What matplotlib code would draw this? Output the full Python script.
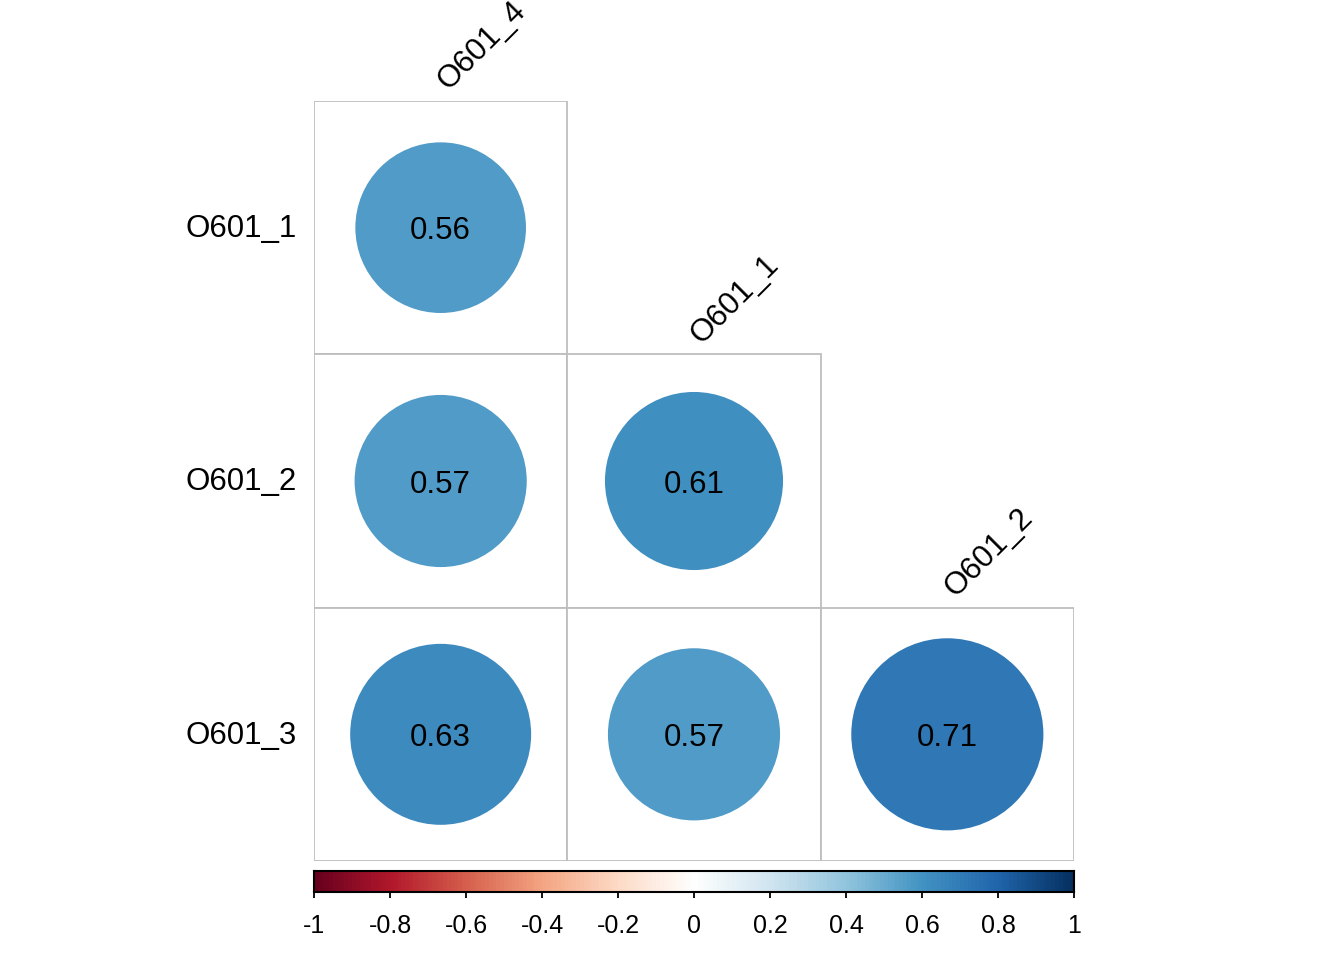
import numpy as np
import matplotlib
matplotlib.use("Agg")
import matplotlib.pyplot as plt
from matplotlib.colors import LinearSegmentedColormap
from matplotlib.patches import Circle, Rectangle

plt.rcParams['font.family'] = ['Liberation Sans', 'DejaVu Sans']

# data
row_labels = ["O601_1", "O601_2", "O601_3"]
col_labels = ["O601_4", "O601_1", "O601_2"]
corr = [
    [0.56],
    [0.57, 0.61],
    [0.63, 0.57, 0.71],
]
cbar_ticks = [-1, -0.8, -0.6, -0.4, -0.2, 0, 0.2, 0.4, 0.6, 0.8, 1]

# corrplot RdBu palette
rdbu = ["#67001F", "#B2182B", "#D6604D", "#F4A582", "#FDDBC7", "#FFFFFF",
        "#D1E5F0", "#92C5DE", "#4393C3", "#2166AC", "#053061"]
cmap = LinearSegmentedColormap.from_list("rdbu", rdbu, N=200)

W, H = 1344, 960
fig = plt.figure(figsize=(W / 100, H / 100), dpi=100)

# main grid axes
gx0, gx1, gy0, gy1 = 314, 1074, 101, 861
ax = fig.add_axes([gx0 / W, (H - gy1) / H, (gx1 - gx0) / W, (gy1 - gy0) / H])
n = len(row_labels)
ax.set_xlim(0, n)
ax.set_ylim(n, 0)
ax.axis("off")

for i, row in enumerate(corr):
    for j, r in enumerate(row):
        ax.add_patch(Rectangle((j, i), 1, 1, facecolor="white",
                               edgecolor="#BEBEBE", lw=1.3, zorder=1))
        ax.add_patch(Circle((j + 0.5, i + 0.5), 0.45 * np.sqrt(abs(r)),
                            facecolor=cmap((r + 1) / 2), edgecolor="none", zorder=2))
        ax.text(j + 0.5, i + 0.515, f"{r:.2f}", ha="center", va="center",
                fontsize=22.5, zorder=3)

for i, lab in enumerate(row_labels):
    ax.text(-0.067, i + 0.505, lab, ha="right", va="center", fontsize=22.5, clip_on=False)

for j, lab in enumerate(col_labels):
    ax.text(j + 0.55, j - 0.02, lab, ha="left", va="bottom", rotation=45,
            rotation_mode="anchor", fontsize=22.5, clip_on=False)

# colorbar
cy0, cy1 = 871, 892
cax = fig.add_axes([gx0 / W, (H - cy1) / H, (gx1 - gx0) / W, (cy1 - cy0) / H])
grad = np.linspace(-1, 1, 200).reshape(1, -1)
cax.imshow(grad, cmap=cmap, vmin=-1, vmax=1, aspect="auto", extent=(-1, 1, 0, 1))
cax.set_xlim(-1, 1)
cax.set_yticks([])
cax.set_xticks(cbar_ticks)
cax.set_xticklabels([f"{t:g}" for t in cbar_ticks], fontsize=18)
cax.tick_params(axis="x", direction="out", length=4, width=1.3, pad=12)
for s in cax.spines.values():
    s.set_linewidth(1.5)

fig.savefig("out.png", dpi=100)
